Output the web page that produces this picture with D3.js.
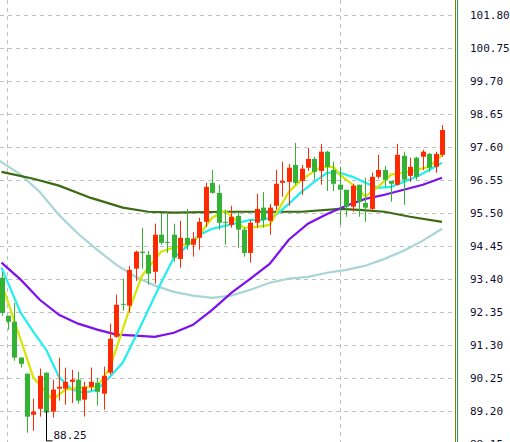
<!DOCTYPE html>
<html>
<head>
<meta charset="utf-8">
<title>K-line</title>
<script src="https://cdn.jsdelivr.net/npm/d3@7"></script>
<style>
  body { margin: 0; background: #fff; }
  svg text { font-family: "DejaVu Sans Mono", monospace; font-size: 11px; fill: #101030; }
</style>
</head>
<body>
<script>
// candles: [open, close, high, low]
var candles = [
  [93.44,92.32,93.63,92.23],[92.23,92.04,92.23,91.79],[92.04,90.90,92.64,90.80],[90.90,90.70,90.90,90.58],
  [90.39,89.02,90.39,88.51],[89.08,89.18,89.59,88.57],[89.27,90.32,90.55,89.02],[90.42,89.15,90.42,88.25],
  [89.18,89.88,90.20,88.99],[89.91,89.97,90.90,89.53],[89.91,90.13,90.58,89.40],[90.13,90.20,90.51,89.46],
  [90.20,89.53,90.45,89.43],[89.56,89.97,90.13,89.02],[89.97,90.13,90.58,89.85],[90.10,89.81,90.26,89.37],
  [89.75,90.32,90.61,89.24],[90.42,91.50,91.98,90.35],[91.56,92.58,92.90,91.53],[92.61,92.58,93.41,92.39],
  [92.55,93.69,93.82,92.32],[93.73,94.27,94.30,93.34],[94.27,94.23,95.03,93.73],[94.17,93.57,94.30,93.22],
  [93.63,94.81,95.16,93.25],[94.81,94.55,95.49,94.49],[94.58,94.55,95.54,94.23],[94.81,94.08,95.16,93.95],
  [94.04,94.71,95.25,93.76],[94.71,94.49,95.63,94.33],[94.49,94.68,94.90,94.11],[94.71,95.22,95.35,94.33],
  [95.22,96.33,96.46,95.06],[96.46,96.14,96.87,96.11],[96.14,95.19,96.40,94.97],[95.22,95.19,95.60,94.49],
  [95.12,95.38,95.73,95.03],[95.41,94.97,95.51,94.39],[94.97,94.23,95.03,94.11],[94.23,95.19,95.28,93.92],
  [95.19,95.63,96.11,95.03],[95.67,95.28,96.17,95.03],[95.25,95.67,95.79,94.81],[95.73,96.43,96.87,95.60],
  [96.46,96.52,97.13,96.02],[96.49,96.94,97.06,95.73],[97.03,96.46,97.73,96.40],[96.52,96.91,97.03,96.08],
  [96.94,97.22,97.57,96.84],[97.22,96.81,97.29,96.56],[96.84,97.45,97.70,96.40],[97.45,96.97,97.48,96.20],
  [96.87,96.43,97.13,96.20],[96.40,96.24,96.97,95.12],[96.24,95.70,96.24,95.38],[95.70,96.37,96.43,95.54],
  [96.40,95.86,96.40,95.38],[95.82,95.67,96.62,95.22],[95.63,96.65,96.78,95.60],[96.65,96.87,97.35,96.59],
  [96.87,96.56,97.00,96.33],[96.52,96.43,96.52,95.86],[96.40,97.35,97.70,96.37],[97.32,96.56,97.45,95.76],
  [96.68,96.97,97.26,96.49],[97.26,96.65,97.29,96.56],[97.29,97.45,97.51,96.87],[97.38,96.94,97.41,96.81],
  [96.97,97.38,97.45,96.78],[97.35,98.14,98.30,97.29]
];
// moving averages: [candle index, value]
var ma5 = [[0,93.28],[5,90.26],[8,89.56],[10,89.88],[12,89.94],[15,89.97],[17,90.58],[20,92.42],[22,93.50],[25,94.27],[28,94.46],[30,94.55],[33,95.35],[35,95.57],[38,95.03],[40,95.06],[42,95.12],[45,96.17],[47,96.56],[50,96.97],[52,96.97],[53,96.72],[55,96.40],[57,96.02],[59,96.33],[61,96.72],[63,96.78],[65,96.87],[67,96.97],[69,97.35]];
var ma10 = [[0,93.76],[3,92.33],[5,91.72],[7,91.15],[9,90.29],[11,89.88],[13,89.78],[15,89.88],[17,90.29],[19,90.74],[21,91.56],[23,92.42],[25,93.28],[27,94.08],[29,94.43],[31,94.81],[33,95.00],[35,95.09],[37,95.19],[39,95.28],[41,95.28],[43,95.44],[45,95.79],[47,96.17],[49,96.49],[51,96.78],[53,96.78],[55,96.65],[57,96.46],[59,96.30],[61,96.33],[63,96.49],[65,96.65],[67,96.87],[69,97.10]];
var ma20 = [[0,93.92],[3,93.38],[6,92.74],[9,92.26],[12,91.98],[15,91.79],[18,91.63],[21,91.60],[24,91.56],[27,91.69],[30,91.94],[33,92.42],[36,92.96],[39,93.41],[42,93.88],[45,94.65],[48,95.16],[51,95.47],[54,95.73],[57,95.95],[60,96.08],[63,96.24],[66,96.40],[69,96.62]];
var ma60 = [[0,96.81],[5,96.59],[9,96.37],[14,95.98],[19,95.67],[23,95.54],[27,95.51],[35,95.54],[43,95.54],[47,95.54],[53,95.63],[56,95.60],[60,95.54],[64,95.38],[69,95.22]];
var ma120 = [[-0.3,97.16],[3,96.72],[6,96.17],[9,95.44],[12,94.84],[15,94.33],[18,93.85],[21,93.47],[24,93.19],[27,92.99],[30,92.87],[33,92.80],[36,92.87],[39,93.06],[42,93.28],[45,93.41],[48,93.47],[51,93.60],[54,93.69],[57,93.82],[60,94.04],[63,94.30],[66,94.62],[69,95.00]];
var priceTicks = [101.80,100.75,99.70,98.65,97.60,96.55,95.50,94.45,93.40,92.35,91.30,90.25,89.20,88.15];
var lowMark = {index: 7, value: 88.25, label: "88.25"};

var W = 510, H = 442, plotRight = 455;
var svg = d3.select("body").append("svg").attr("width", W).attr("height", H);

var x = d3.scaleLinear().domain([0, 69]).range([1.5, 442]);
var y = d3.scaleLinear().domain([88.15, 101.80]).range([444, 15]);

// grid
svg.append("g").selectAll("line").data(priceTicks).enter().append("line")
    .attr("x1", 0).attr("x2", plotRight)
    .attr("y1", function (d) { return Math.round(y(d)) + 0.5; })
    .attr("y2", function (d) { return Math.round(y(d)) + 0.5; })
    .attr("stroke", "#c0c0c0").attr("stroke-dasharray", "4,4");
svg.append("g").selectAll("line").data([7.5, 340.5]).enter().append("line")
    .attr("x1", function (d) { return d; }).attr("x2", function (d) { return d; })
    .attr("y1", 0).attr("y2", H)
    .attr("stroke", "#c0c0c0").attr("stroke-dasharray", "4,4");

// moving averages
var line = d3.line().x(function (d) { return x(d[0]); }).y(function (d) { return y(d[1]); });
[[ma120, "#a8d5d5"], [ma60, "#3b6b12"], [ma20, "#7c10f0"], [ma10, "#22eef0"], [ma5, "#d4e600"]].forEach(function (m) {
    svg.append("path").datum(m[0]).attr("d", line)
        .attr("fill", "none").attr("stroke", m[1]).attr("stroke-width", 2.2);
});

// candles
var up = "#ff2a00", down = "#33b233";
var g = svg.append("g").selectAll("g").data(candles).enter().append("g");
g.append("line")
    .attr("x1", function (d, i) { return Math.round(x(i)) + 0.5; })
    .attr("x2", function (d, i) { return Math.round(x(i)) + 0.5; })
    .attr("y1", function (d) { return y(d[2]); })
    .attr("y2", function (d) { return y(d[3]); })
    .attr("stroke", function (d) { return d[1] >= d[0] ? up : down; });
g.append("rect")
    .attr("x", function (d, i) { return Math.round(x(i)) - 2; })
    .attr("width", 5)
    .attr("y", function (d) { return y(Math.max(d[0], d[1])); })
    .attr("height", function (d) { return Math.max(1, Math.abs(y(d[0]) - y(d[1]))); })
    .attr("fill", function (d) { return d[1] >= d[0] ? up : down; });

// lowest price marker
var lx = Math.round(x(lowMark.index)) + 0.5, ly = y(lowMark.value);
svg.append("path").attr("d", "M" + lx + "," + (ly - 30) + "V" + ly + "H" + (lx + 6))
    .attr("fill", "none").attr("stroke", "#000");
svg.append("text").attr("x", lx + 7).attr("y", ly - 2).text(lowMark.label);

// right axis
svg.append("line").attr("x1", plotRight + 0.5).attr("x2", plotRight + 0.5).attr("y1", 0).attr("y2", H)
    .attr("stroke", "#808000");
svg.append("line").attr("x1", plotRight + 2.5).attr("x2", plotRight + 2.5).attr("y1", 0).attr("y2", H)
    .attr("stroke", "#1a9a6a");
svg.append("g").selectAll("text").data(priceTicks).enter().append("text")
    .attr("x", 470).attr("y", function (d) { return y(d) + 4; })
    .text(function (d) { return d.toFixed(2); });
</script>
</body>
</html>
